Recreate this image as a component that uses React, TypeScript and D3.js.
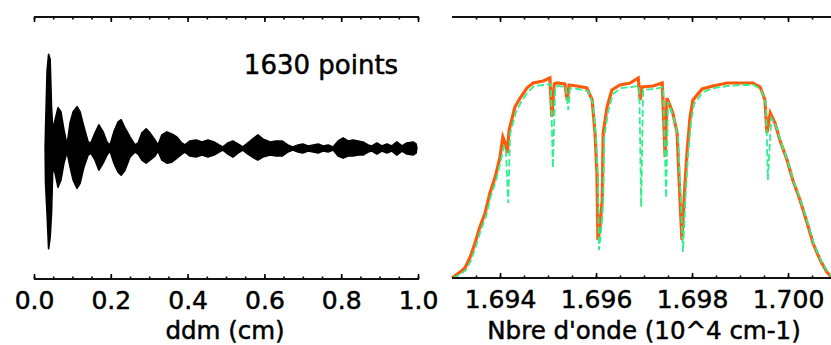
import React, { useEffect, useRef } from 'react';
import * as d3 from 'd3';

// ---------- Left panel: interferogram envelope ----------
const ddm = [0.029, 0.030, 0.034, 0.038, 0.042, 0.0456, 0.049, 0.055, 0.0625, 0.070, 0.078, 0.086, 0.094, 0.102, 0.112, 0.120, 0.130, 0.141, 0.148, 0.159, 0.169, 0.180, 0.190, 0.198, 0.208, 0.219, 0.227, 0.237, 0.250, 0.263, 0.271, 0.281, 0.292, 0.302, 0.315, 0.323, 0.333, 0.346, 0.359, 0.372, 0.385, 0.393, 0.406, 0.422, 0.4375, 0.453, 0.469, 0.482, 0.492, 0.505, 0.518, 0.531, 0.544, 0.557, 0.573, 0.583, 0.596, 0.615, 0.630, 0.646, 0.661, 0.674, 0.6875, 0.700, 0.714, 0.727, 0.740, 0.753, 0.766, 0.779, 0.792, 0.805, 0.818, 0.831, 0.844, 0.857, 0.870, 0.880, 0.893, 0.906, 0.919, 0.932, 0.945, 0.958, 0.971, 0.987, 0.995, 0.997];
const envTop = [0, 0.18, 0.76, 0.93, 0.88, 0.41, 0.18, 0.28, 0.40, 0.36, 0.18, 0.03, 0.25, 0.36, 0.41, 0.36, 0.21, 0.06, 0.05, 0.15, 0.23, 0.16, 0.06, 0.03, 0.16, 0.26, 0.28, 0.20, 0.11, 0.03, 0.05, 0.15, 0.19, 0.15, 0.08, 0.03, 0.13, 0.16, 0.14, 0.11, 0.05, 0.03, 0.07, 0.08, 0.06, 0.08, 0.06, 0.03, 0.01, 0.05, 0.07, 0.04, 0.01, 0.05, 0.10, 0.13, 0.09, 0.06, 0.07, 0.07, 0.03, 0.01, 0.03, 0.04, 0.02, 0.03, 0.04, 0.02, 0.03, 0.01, 0.07, 0.10, 0.07, 0.08, 0.07, 0.06, 0.03, 0.02, 0.05, 0.02, 0.04, 0.02, 0.06, 0.02, 0.05, 0.06, 0.04, 0];
const envBottom = [0, -0.35, -0.65, -1.00, -0.89, -0.65, -0.19, -0.25, -0.39, -0.32, -0.15, -0.04, -0.19, -0.32, -0.40, -0.35, -0.19, -0.07, -0.05, -0.12, -0.22, -0.15, -0.07, -0.03, -0.15, -0.24, -0.27, -0.22, -0.09, -0.04, -0.06, -0.12, -0.15, -0.12, -0.08, -0.03, -0.12, -0.15, -0.14, -0.10, -0.06, -0.04, -0.08, -0.09, -0.07, -0.09, -0.07, -0.04, -0.02, -0.06, -0.09, -0.05, -0.02, -0.06, -0.10, -0.12, -0.09, -0.07, -0.08, -0.08, -0.04, -0.02, -0.04, -0.05, -0.03, -0.04, -0.05, -0.03, -0.04, -0.02, -0.08, -0.10, -0.08, -0.08, -0.07, -0.07, -0.04, -0.03, -0.06, -0.03, -0.05, -0.03, -0.07, -0.03, -0.06, -0.07, -0.05, 0];
const leftTickLabels = [0, 0.2, 0.4, 0.6, 0.8, 1.0];
const leftMinorTicks = [0, 0.05, 0.1, 0.15, 0.2, 0.25, 0.3, 0.35, 0.4, 0.45, 0.5, 0.55, 0.6, 0.65, 0.7, 0.75, 0.8, 0.85, 0.9, 0.95, 1.0];

// ---------- Right panel: spectra ----------
const wavenumber = [1.69300, 1.69317, 1.69327, 1.69338, 1.69348, 1.69358, 1.69369, 1.69379, 1.69390, 1.69400, 1.69406, 1.69410, 1.69415, 1.69419, 1.69431, 1.69442, 1.69456, 1.69469, 1.69490, 1.69504, 1.69508, 1.69513, 1.69519, 1.69535, 1.69540, 1.69544, 1.69560, 1.69581, 1.69592, 1.69598, 1.69602, 1.69604, 1.69608, 1.69613, 1.69615, 1.69623, 1.69633, 1.69650, 1.69671, 1.69688, 1.69692, 1.69696, 1.69719, 1.69738, 1.69744, 1.69748, 1.69760, 1.69769, 1.69775, 1.69779, 1.69785, 1.69790, 1.69796, 1.69802, 1.69821, 1.69844, 1.69873, 1.69900, 1.69927, 1.69942, 1.69952, 1.69956, 1.69963, 1.69973, 1.69983, 1.69998, 1.70010, 1.70025, 1.70040, 1.70052, 1.70067, 1.70081, 1.70090];
const orangeSpec = [0.00, 0.03, 0.05, 0.105, 0.175, 0.255, 0.325, 0.425, 0.505, 0.605, 0.705, 0.68, 0.625, 0.74, 0.855, 0.90, 0.95, 0.975, 0.985, 1.00, 0.805, 0.97, 0.975, 0.97, 0.89, 0.965, 0.96, 0.95, 0.89, 0.725, 0.525, 0.19, 0.25, 0.39, 0.725, 0.855, 0.94, 0.965, 0.975, 1.00, 0.89, 0.955, 0.96, 0.975, 0.605, 0.90, 0.825, 0.725, 0.39, 0.19, 0.455, 0.64, 0.805, 0.89, 0.945, 0.96, 0.975, 0.975, 0.975, 0.955, 0.89, 0.725, 0.825, 0.775, 0.69, 0.59, 0.49, 0.39, 0.275, 0.175, 0.09, 0.03, 0.005];
const cyanSpec = [0.00, 0.02, 0.04, 0.09, 0.16, 0.24, 0.31, 0.41, 0.49, 0.59, 0.66, 0.65, 0.375, 0.72, 0.83, 0.88, 0.93, 0.96, 0.965, 0.97, 0.55, 0.955, 0.96, 0.955, 0.84, 0.95, 0.945, 0.935, 0.87, 0.70, 0.50, 0.14, 0.22, 0.37, 0.70, 0.83, 0.92, 0.95, 0.955, 0.96, 0.355, 0.94, 0.945, 0.955, 0.40, 0.88, 0.80, 0.70, 0.37, 0.13, 0.43, 0.62, 0.78, 0.87, 0.93, 0.95, 0.96, 0.965, 0.965, 0.94, 0.87, 0.49, 0.80, 0.76, 0.68, 0.58, 0.48, 0.38, 0.27, 0.17, 0.085, 0.03, 0.005];
const rightTickLabels = [1.694, 1.696, 1.698, 1.700];
const rightMinorTicks = [1.6935, 1.694, 1.6945, 1.695, 1.6955, 1.696, 1.6965, 1.697, 1.6975, 1.698, 1.6985, 1.699, 1.6995, 1.700, 1.7005];

const W = 831;
const H = 345;
const FONT = "'DejaVu Sans', Verdana, sans-serif";
const TICK_FS = 25;
const TITLE_FS = 24.5;

export default function App() {
  const axesRef = useRef<SVGGElement | null>(null);

  const xL = d3.scaleLinear().domain([0, 1]).range([34, 418]);
  const yL = d3.scaleLinear().domain([-1.3, 1.3]).range([279, 17]);
  const xR = d3.scaleLinear().domain([1.693, 1.701]).range([452, 836]);
  const yR = d3.scaleLinear().domain([0, 1.31]).range([278, 16]);

  const idx = d3.range(ddm.length);
  const area = d3
    .area<number>()
    .x((i) => xL(ddm[i]))
    .y0((i) => yL(envBottom[i]))
    .y1((i) => yL(envTop[i]))
    .curve(d3.curveLinear);

  const ridx = d3.range(wavenumber.length);
  const lineOrange = d3
    .line<number>()
    .x((i) => xR(wavenumber[i]))
    .y((i) => yR(orangeSpec[i]));
  const lineCyan = d3
    .line<number>()
    .x((i) => xR(wavenumber[i]) + 1)
    .y((i) => yR(cyanSpec[i]));

  useEffect(() => {
    const g = d3.select(axesRef.current);
    g.selectAll('*').remove();

    const drawAxis = (
      x: d3.ScaleLinear<number, number>,
      y: number,
      minor: number[],
      major: number[],
      top: boolean,
      fmt: (d: number) => string,
      x1: number
    ) => {
      const mk = top ? d3.axisTop : d3.axisBottom;
      const gm = g.append('g').attr('transform', `translate(0,${y})`);
      gm.call(mk(x).tickValues(minor).tickSize(-2.5).tickSizeOuter(0).tickFormat(() => ''));
      const gM = g.append('g').attr('transform', `translate(0,${y})`);
      gM.call(
        mk(x)
          .tickValues(major)
          .tickSize(-5)
          .tickSizeOuter(0)
          .tickPadding(12)
          .tickFormat((d) => (top ? '' : fmt(d as number)))
      );
      [gm, gM].forEach((s) => {
        s.select('.domain').remove();
        s.selectAll('line').attr('stroke', '#000').attr('stroke-width', 1.6);
      });
      g.append('line')
        .attr('x1', x.range()[0])
        .attr('x2', x1)
        .attr('y1', y)
        .attr('y2', y)
        .attr('stroke', '#111')
        .attr('stroke-width', 1.8);
      gM.selectAll('text')
        .attr('font-family', FONT)
        .attr('font-size', TICK_FS)
        .attr('fill', '#000')
        .attr('stroke', '#000')
        .attr('stroke-width', 0.5);
      gm.attr('font-size', null);
      gM.attr('font-size', null).attr('font-family', null);
    };

    drawAxis(xL, 279, leftMinorTicks, leftTickLabels, false, d3.format('.1f'), 419);
    drawAxis(xL, 17, leftMinorTicks, leftTickLabels, true, d3.format('.1f'), 419);
    drawAxis(xR, 278, rightMinorTicks, rightTickLabels, false, d3.format('.3f'), 831);
    drawAxis(xR, 17, rightMinorTicks, rightTickLabels, true, d3.format('.3f'), 831);
  }, []);

  return (
    <svg
      width={W}
      height={H}
      style={{ position: 'absolute', left: 0, top: 0, background: '#fff' }}
    >
      <rect x={0} y={0} width={W} height={H} fill="#fff" />
      <path d={area(idx) || ''} fill="#000" stroke="#000" strokeWidth={1.6} strokeLinejoin="round" />
      <path d={lineOrange(ridx) || ''} fill="none" stroke="#ff5a0a" strokeWidth={3.2} />
      <path d={lineCyan(ridx) || ''} fill="none" stroke="#2ef08f" strokeWidth={1.8} strokeDasharray="7,3" />
      <g ref={axesRef} />
      <text x={321} y={74} textAnchor="middle" fontFamily={FONT} fontSize={26} fill="#000" stroke="#000" strokeWidth={0.5}>
        1630 points
      </text>
      <text x={225} y={339} textAnchor="middle" fontFamily={FONT} fontSize={TITLE_FS} fill="#000" stroke="#000" strokeWidth={0.5}>
        ddm (cm)
      </text>
      <text x={644} y={339} textAnchor="middle" fontFamily={FONT} fontSize={TITLE_FS} fill="#000" stroke="#000" strokeWidth={0.5}>
        Nbre d'onde (10^4 cm-1)
      </text>
    </svg>
  );
}
